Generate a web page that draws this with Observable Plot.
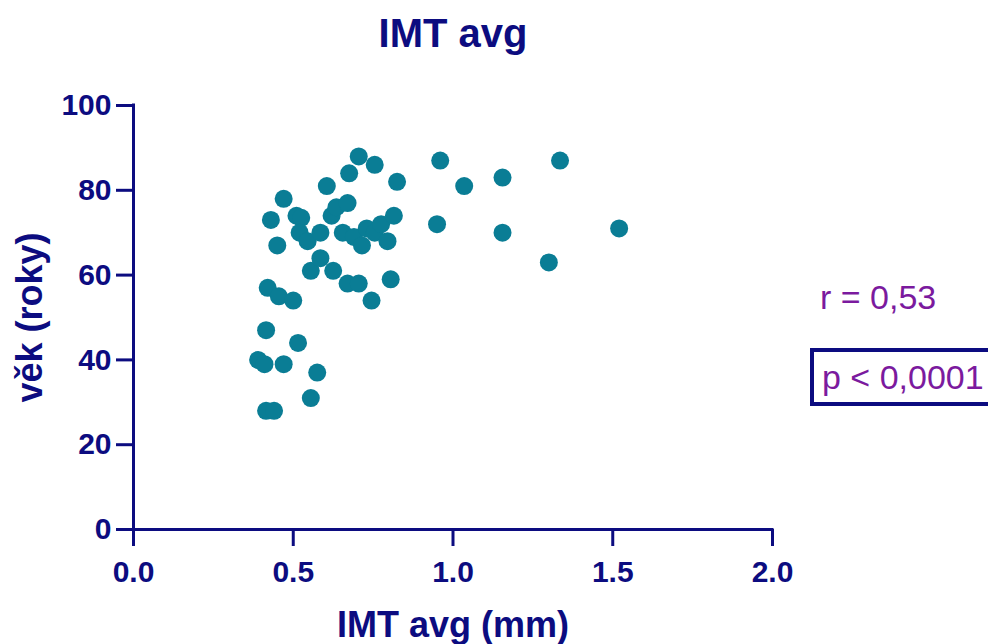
<!DOCTYPE html>
<html>
<head>
<meta charset="utf-8">
<script src="https://cdn.jsdelivr.net/npm/d3@7"></script>
<script src="https://cdn.jsdelivr.net/npm/@observablehq/plot@0.6"></script>
<style>
  html, body { margin: 0; padding: 0; background: #fff; overflow: hidden; }
  #wrap { position: relative; width: 988px; height: 644px; font-family: "Liberation Sans", Arial, sans-serif; }
  #chart svg g[aria-label^="x-axis"] path, #chart svg g[aria-label^="y-axis"] path,
  #chart svg g[aria-label^="x-axis"] line, #chart svg g[aria-label^="y-axis"] line { stroke-width: 3px; }
  .stat { position: absolute; color: #7b1a9e; font-size: 34px; font-weight: normal; white-space: nowrap; line-height: 1; }
  #r { left: 820px; top: 280px; }
  #p { left: 810px; top: 348px; width: 200px; height: 50px; border: 4px solid #0c0c80; box-sizing: content-box; padding-left: 8px; display: flex; align-items: center; }
</style>
</head>
<body>
<div id="wrap">
  <div id="chart"></div>
  <div class="stat" id="r">r = 0,53</div>
  <div class="stat" id="p">p &lt; 0,0001</div>
</div>
<script>
// IMT avg (mm) and age (years) for each subject
const imt = [0.39, 0.41, 0.47, 0.415, 0.44, 0.415, 0.515, 0.575, 0.555, 0.42,
             0.455, 0.50, 0.43, 0.47, 0.45, 0.51, 0.525, 0.52, 0.545, 0.585,
             0.555, 0.585, 0.605, 0.62, 0.635, 0.67, 0.675, 0.705, 0.755, 0.625,
             0.67, 0.705, 0.745, 0.655, 0.69, 0.715, 0.73, 0.755, 0.775, 0.795,
             0.815, 0.825, 0.805, 0.96, 1.035, 1.155, 1.335, 0.95, 1.155, 1.52, 1.30];
const vek = [40, 39, 39, 28, 28, 47, 44, 37, 31, 57,
             55, 54, 73, 78, 67, 74, 73.5, 70, 68, 70,
             61, 64, 81, 74, 76, 77, 84, 88, 86, 61,
             58, 58, 54, 70, 69, 67, 71, 70, 72, 68,
             74, 82, 59, 87, 81, 83, 87, 72, 70, 71, 63];
const xTickValues = [0, 0.5, 1.0, 1.5, 2.0];
const yTickValues = [0, 20, 40, 60, 80, 100];
const chartTitle = "IMT avg";
const xLabel = "IMT avg (mm)";
const yLabel = "věk (roky)";

const navy = "#0c0c80";
const teal = "#0a7d95";
const points = imt.map((x, i) => ({x, y: vek[i]}));

const hasAxisMarks = typeof Plot.axisX === "function";
const axisMarks = hasAxisMarks ? [
  Plot.axisX({ticks: xTickValues, tickFormat: d3.format(".1f"), tickSize: 17, tickPadding: 14, stroke: navy, strokeWidth: 3, fill: navy, fontSize: 30, fontWeight: "bold", label: null}),
  Plot.axisY({ticks: yTickValues, tickFormat: d3.format("d"), tickSize: 17, tickPadding: 5, stroke: navy, strokeWidth: 3, fill: navy, fontSize: 30, fontWeight: "bold", label: null})
] : [];

const plot = Plot.plot({
  width: 988,
  height: 644,
  marginTop: 105,
  marginBottom: 115,
  marginLeft: 133,
  marginRight: 216,
  style: {fontFamily: "Liberation Sans, Arial, sans-serif", fontSize: "30px", fontWeight: "bold", color: navy, background: "#fff", overflow: "visible"},
  x: {domain: [0, 2], ticks: xTickValues, tickFormat: d3.format(".1f"), tickSize: 17, tickPadding: 14, label: null},
  y: {domain: [0, 100], ticks: yTickValues, tickFormat: d3.format("d"), tickSize: 17, tickPadding: 5, label: null},
  marks: [
    ...axisMarks,
    Plot.ruleY([0], {x1: 0, x2: 2, stroke: navy, strokeWidth: 3, strokeLinecap: "square"}),
    Plot.ruleX([0], {y1: 0, y2: 100, stroke: navy, strokeWidth: 3, strokeLinecap: "square"}),
    Plot.dot(points, {x: "x", y: "y", r: 9, fill: teal, stroke: "none"}),
    Plot.text([chartTitle], {text: d => d, frameAnchor: "top", dy: -71, lineAnchor: "middle", textAnchor: "middle", fontSize: 40, fontWeight: "bold", fill: navy}),
    Plot.text([xLabel], {text: d => d, frameAnchor: "bottom", dy: 96, lineAnchor: "middle", textAnchor: "middle", fontSize: 36, fontWeight: "bold", fill: navy}),
    Plot.text([yLabel], {text: d => d, frameAnchor: "left", dx: -103, rotate: -90, lineAnchor: "middle", textAnchor: "middle", fontSize: 36, fontWeight: "bold", fill: navy})
  ]
});
document.getElementById("chart").appendChild(plot);
</script>
</body>
</html>
